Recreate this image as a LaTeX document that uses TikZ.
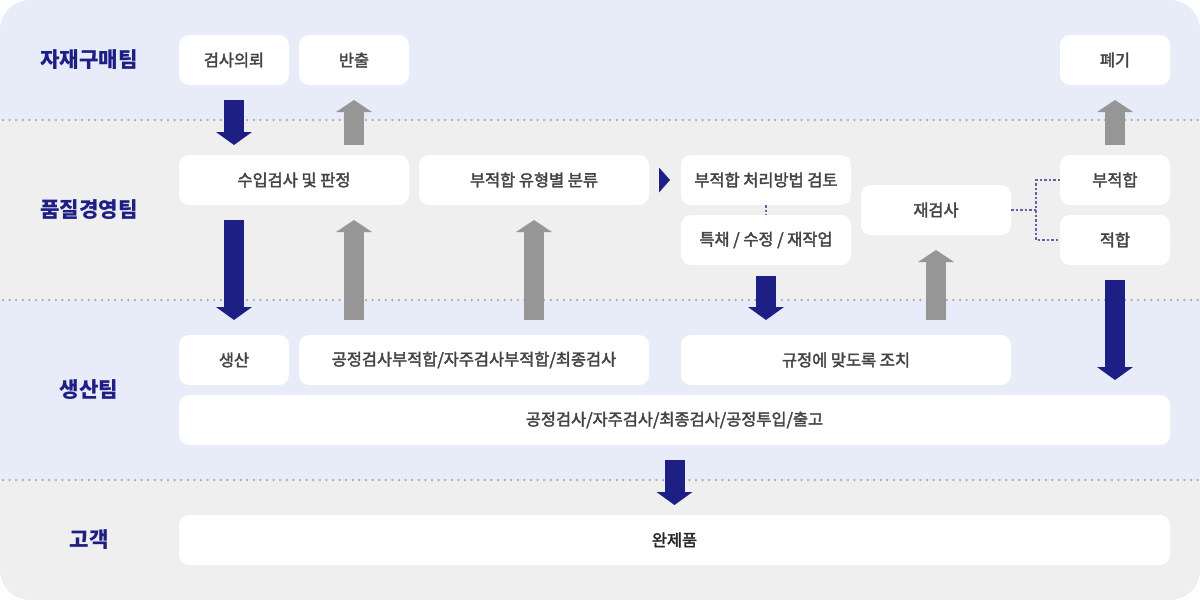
\documentclass[tikz,border=0pt]{standalone}
\usepackage{fontspec}
\setmainfont{Noto Sans CJK KR}
\newfontfamily\boxfont{Noto Sans CJK KR}[FakeBold=2.2]
\usetikzlibrary{arrows.meta,positioning}
\definecolor{lanea}{HTML}{E8ECF8}
\definecolor{laneb}{HTML}{EFEFEF}
\definecolor{navy}{HTML}{1E1F85}
\definecolor{arrgray}{HTML}{969696}
\definecolor{txt}{HTML}{444444}
\definecolor{dotgray}{HTML}{AAAAAA}
\tikzset{
  box/.style={fill=white, rounded corners=10pt, minimum height=50pt, inner sep=0pt, outer sep=0pt, anchor=north west, font=\boxfont\fontsize{16.4}{19}\selectfont, text=txt},
  team/.style={font=\fontsize{21.2}{24}\selectfont\bfseries, text=navy},
  sep/.style={dotgray, line width=2.5pt, line cap=round, dash pattern=on 0pt off 6.6pt},
  godown/.style={navy, line width=20pt, -{Triangle[length=13pt, width=36pt, line width=0pt]}},
  goup/.style={arrgray, line width=20pt, -{Triangle[length=12pt, width=36pt, line width=0pt]}},
  link/.style={navy!70, line width=1.5pt, dash pattern=on 2.5pt off 2pt},
}

\begin{document}
\begin{tikzpicture}[x=1pt, y=-1pt, node distance=10pt]
\useasboundingbox (0,0) rectangle (1200,600);
% lanes
\begin{scope}
\clip[rounded corners=30pt] (0,0) rectangle (1200,600);
\fill[lanea] (0,0) rectangle (1200,120);
\fill[laneb] (0,120) rectangle (1200,300);
\fill[lanea] (0,300) rectangle (1200,480);
\fill[laneb] (0,480) rectangle (1200,600);
\end{scope}
\foreach \y in {120,300,480}
  \draw[sep] (3,\y) -- (1200,\y);

\node[team] (tbuy) at (89,60) {자재구매팀};
\node[team] (tqm) at (89,210) {품질경영팀};
\node[team] (tprod) at (89,390) {생산팀};
\node[team] (tcust) at (89,540) {고객};

% 자재구매팀
\node[box, minimum width=110pt] (ask) at (179,35) {검사의뢰};
\node[box, minimum width=110pt, right=of ask] (out) {반출};
\node[box, minimum width=110pt] (scrap) at (1060,35) {폐기};

% 품질경영팀
\node[box, minimum width=230pt] (iqc) at (179,155) {수입검사 및 판정};
\node[box, minimum width=230pt, right=of iqc] (cls) {부적합 유형별 분류};
\node[box, minimum width=170pt] (rev) at (681,155) {부적합 처리방법 검토};
\node[box, minimum width=170pt, below=of rev] (rework) {특채 / 수정 / 재작업};
\node[box, minimum width=150pt] (recheck) at (861,185) {재검사};
\node[box, minimum width=110pt] (ng) at (1060,155) {부적합};
\node[box, minimum width=110pt, below=of ng] (ok) {적합};

% 생산팀
\node[box, minimum width=110pt] (prod) at (179,335) {생산};
\node[box, minimum width=350pt, right=of prod] (defect) {공정검사부적합/자주검사부적합/최종검사};
\node[box, minimum width=330pt] (fix) at (681,335) {규정에 맞도록 조치};
\node[box, minimum width=991pt] (flow) at (179,395) {공정검사/자주검사/최종검사/공정투입/출고};

% 고객
\node[box, minimum width=991pt, text=black!85] (done) at (179,515) {완제품};

% connectors
\draw[godown] ([yshift=-15pt]ask.south) -- ([yshift=10pt]ask.south |- iqc.north);
\draw[goup] ([yshift=10pt]out.south |- iqc.north) -- ([yshift=-15pt]out.south);
\draw[goup] ([yshift=10pt]ng.north) -- ([yshift=-15pt]scrap.south);
\draw[godown] ([yshift=-15pt]prod.north |- iqc.south) -- ([yshift=15pt]prod.north);
\draw[goup] ([yshift=15pt]out.south |- defect.north) -- ([yshift=-15pt]out.south |- iqc.south);
\draw[goup] ([yshift=15pt]cls.south |- defect.north) -- ([yshift=-15pt]cls.south);
\draw[navy, line width=0.1pt, -{Triangle[length=11pt, width=25pt, line width=0pt]}] ([xshift=10pt]cls.east) -- ([xshift=-11pt]rev.west);
\draw[link] (rev) -- (rework);
\draw[godown] ([yshift=-11pt]rework.south) -- ([yshift=15pt]rework.south |- fix.north);
\draw[goup] ([yshift=15pt]recheck.south |- fix.north) -- ([yshift=-15pt]recheck.south);
\draw[link] (recheck.east) -- ++(25,0) coordinate (fork) |- (ng.west);
\draw[link] (fork) |- (ok.west);
\draw[godown] ([yshift=-15pt]ok.south) -- ([yshift=15pt]ok.south |- flow.north);
\draw[godown] ([yshift=-15pt]flow.south) -- ([yshift=10pt]done.north);
\end{tikzpicture}
\end{document}
